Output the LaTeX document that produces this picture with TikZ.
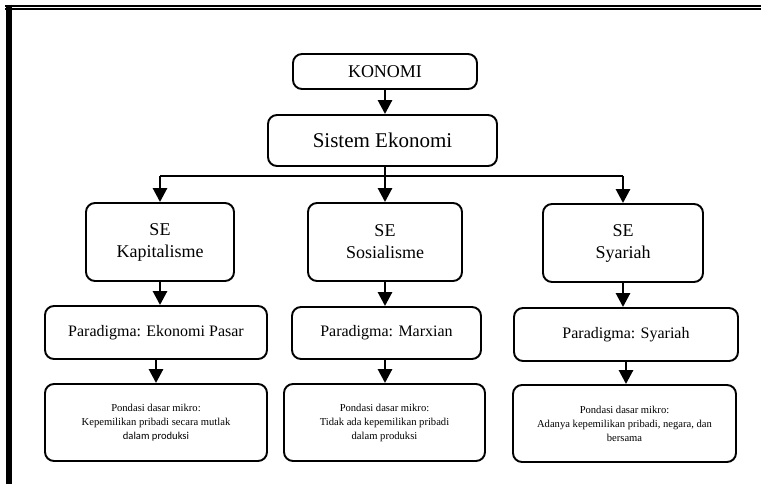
\documentclass[tikz,border=0pt]{standalone}
\usepackage{fontspec}
\setmainfont{Liberation Serif}
\newfontfamily\calibrifont{Carlito}
\usetikzlibrary{arrows.meta,shapes}
\tikzstyle{block} = [rectangle, draw, line width=1.9pt, rounded corners=9pt, align=center, inner sep=0pt]
\tikzstyle{headblock} = [block, minimum width=184pt, minimum height=35pt, font=\fontsize{18}{20}\selectfont]
\tikzstyle{sysblock} = [block, minimum width=229pt, minimum height=51pt, font=\fontsize{21}{24}\selectfont]
\tikzstyle{seblock} = [block, minimum height=78pt, font=\fontsize{18}{22}\selectfont]
\tikzstyle{parblock} = [block, minimum height=53pt, font=\fontsize{16}{19}\selectfont]
\tikzstyle{baseblock} = [block, minimum height=77pt, font=\fontsize{10.6}{14}\selectfont]
\tikzstyle{link} = [line width=2.8pt, -{Triangle[width=14pt,length=14pt]}]

\begin{document}
\begin{tikzpicture}[x=1pt, y=-1pt]
   \useasboundingbox (0,0) rectangle (761,484);
   % frame
   \draw[line width=2pt] (5,5.7) -- (761,5.7);
   \draw[line width=1.7pt] (5,8.8) -- (761,8.8);
   \draw[line width=6pt] (8.5,4.7) -- (8.5,484);

   % nodes
   \node[headblock] (konomi) at (385,71.5) {KONOMI};
   \node[sysblock] (sistem) at (382.5,140.5) {Sistem Ekonomi};
   \node[seblock, minimum width=148pt] (kap) at (160,242) {SE\\Kapitalisme};
   \node[seblock, minimum width=154pt] (sos) at (385,242) {SE\\Sosialisme};
   \node[seblock, minimum width=160pt] (sya) at (623,243) {SE\\Syariah};
   \node[parblock, minimum width=222pt] (parkap) at (156,332.5) {Paradigma: Ekonomi Pasar};
   \node[parblock, minimum width=189pt, minimum height=52pt] (parmar) at (386.5,333) {Paradigma: Marxian};
   \node[parblock, minimum width=224pt] (parsya) at (626,334.5) {Paradigma: Syariah};
   \node[baseblock, minimum width=222pt] (fonkap) at (156,422.5) {Pondasi dasar mikro:\\Kepemilikan pribadi secara mutlak\\{\calibrifont dalam produksi}};
   \node[baseblock, minimum width=201pt] (fonmar) at (384.5,422.5) {Pondasi dasar mikro:\\Tidak ada kepemilikan pribadi\\dalam produksi};
   \node[baseblock, minimum width=223pt] (fonsya) at (624.5,423.5) {Pondasi dasar mikro:\\Adanya kepemilikan pribadi, negara, dan\\bersama};
   \coordinate (split) at (385,176);

   % edges
   \draw[link] (konomi.south) -- (konomi.south |- sistem.north);
   \draw[link] (sos.north |- sistem.south) -- (sos.north);
   \draw[line width=2pt] (kap.north |- split) -- (sya.north |- split);
   \draw[link] (kap.north |- split) -- (kap.north);
   \draw[link] (sya.north |- split) -- (sya.north);
   \draw[link] (kap.south) -- (kap.south |- parkap.north);
   \draw[link] (sos.south) -- (sos.south |- parmar.north);
   \draw[link] (sya.south) -- (sya.south |- parsya.north);
   \draw[link] (parkap.south) -- (fonkap.north);
   \draw[link] (parmar.south -| sos.south) -- (sos.south |- fonmar.north);
   \draw[link] (parsya.south) -- (parsya.south |- fonsya.north);
\end{tikzpicture}
\end{document}
